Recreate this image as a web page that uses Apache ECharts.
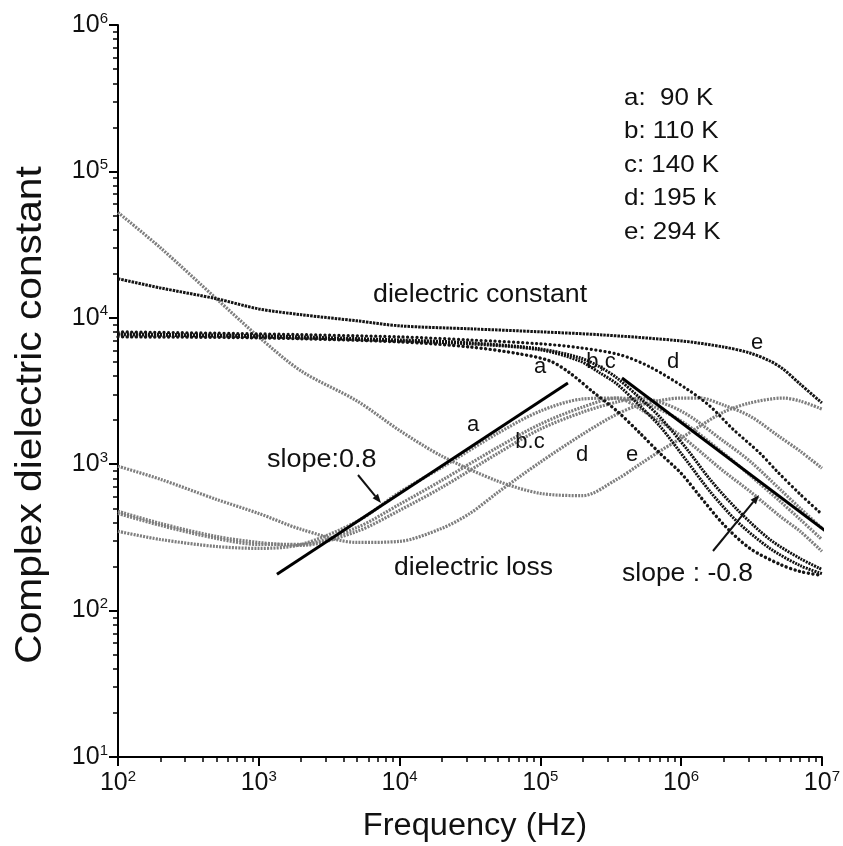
<!DOCTYPE html>
<html>
<head>
<meta charset="utf-8">
<script src="https://cdn.jsdelivr.net/npm/echarts@6/dist/echarts.min.js"></script>
<style>html,body{margin:0;padding:0;background:#fff}#c{width:843px;height:846px}</style>
</head>
<body>
<div id="c"></div>
<script>
// ---- tick labels ----
var xTicks = [1e2, 1e3, 1e4, 1e5, 1e6, 1e7];
var yTicks = [1e1, 1e2, 1e3, 1e4, 1e5, 1e6];
var legendLines = ['a:  90 K', 'b: 110 K', 'c: 140 K', 'd: 195 k', 'e: 294 K'];

// ---- dielectric constant (real part) ----
var fConstE = [100, 200, 500, 1000, 2000, 5000, 1e4, 3.16e4, 1e5, 2.65e5, 1e6, 2e6, 3.08e6, 4.27e6, 5.28e6, 7e6, 1e7];
var vConstE = [18500, 16000, 13500, 11500, 10500, 9530, 8810, 8410, 8020, 7660, 6950, 6320, 5750, 5070, 4480, 3530, 2620];

var fConstA = [100, 1000, 1e4, 3.16e4, 7.16e4, 1.17e5, 1.62e5, 2.37e5, 3.5e5, 5.1e5, 7.06e5, 1e6, 1.36e6, 2e6, 3.08e6, 5.04e6, 7e6, 1e7];
var vConstA = [7410, 7300, 6850, 6320, 5660, 5070, 4200, 3110, 2307, 1630, 1189, 867, 604, 388, 266, 207, 185, 174];

var fConstB = [100, 1000, 1e4, 3.16e4, 1e5, 1.91e5, 2.65e5, 3.5e5, 5.1e5, 7.06e5, 1.1e6, 1.6e6, 2.49e6, 4.27e6, 7e6, 1e7];
var vConstB = [7660, 7410, 6950, 6640, 6040, 5070, 4200, 3530, 2495, 1820, 1049, 653, 407, 266, 203, 179];

var fConstC = [100, 1000, 1e4, 3.16e4, 1e5, 1.91e5, 2.65e5, 3.5e5, 5.1e5, 7.06e5, 1.1e6, 1.6e6, 2.49e6, 4.27e6, 7e6, 1e7];
var vConstC = [7770, 7530, 7060, 6750, 6130, 5330, 4620, 3880, 2830, 2100, 1267, 789, 492, 306, 227, 191];

var fConstD = [100, 1000, 1e4, 3.16e4, 1e5, 1.91e5, 3.67e5, 6e5, 1.1e6, 1.6e6, 2.33e6, 3.63e6, 4.79e6, 7e6, 1e7];
var vConstD = [8020, 7770, 7410, 7060, 6640, 6240, 5590, 4620, 3260, 2495, 1738, 1189, 896, 624, 455];

// ---- dielectric loss (imaginary part) ----
var fLossE = [100, 200, 500, 1000, 2000, 5000, 1e4, 2e4, 5e4, 1e5, 2e5, 3.5e5, 5.1e5, 7.06e5, 1e6, 1.36e6, 2e6, 3.08e6, 5.28e6, 7e6, 1e7];
var vLossE = [52400, 30100, 13500, 7400, 4330, 2700, 1700, 1135, 765, 632, 610, 789, 1000, 1228, 1507, 1820, 2270, 2620, 2830, 2700, 2380];

var fLossD = [100, 200, 500, 1000, 2000, 5000, 1e4, 2e4, 3.16e4, 5e4, 1e5, 2e5, 3.5e5, 5.1e5, 1e6, 1.36e6, 2e6, 3.08e6, 5.04e6, 7e6, 1e7];
var vLossD = [969, 789, 575, 461, 359, 292, 297, 365, 461, 643, 1033, 1604, 2198, 2534, 2831, 2831, 2534, 2133, 1531, 1228, 939];

var fLossA = [100, 200, 500, 1000, 2000, 5000, 1e4, 2e4, 5e4, 1e5, 2e5, 3.5e5, 5.1e5, 1e6, 2e6, 3.08e6, 5.04e6, 7e6, 1e7];
var vLossA = [348, 306, 274, 266, 283, 407, 643, 953, 1630, 2307, 2790, 2830, 2383, 1556, 896, 653, 441, 348, 254];

var fLossB = [100, 200, 500, 1000, 2000, 5000, 1e4, 2e4, 5e4, 1e5, 2e5, 3.5e5, 5.1e5, 1e6, 2e6, 3.08e6, 5.04e6, 7e6, 1e7];
var vLossB = [461, 382, 311, 283, 283, 370, 532, 777, 1307, 1879, 2456, 2830, 2704, 1972, 1189, 841, 558, 420, 306];

var fLossC = [100, 200, 500, 1000, 2000, 5000, 1e4, 2e4, 5e4, 1e5, 2e5, 3.5e5, 5.1e5, 1e6, 2e6, 3.08e6, 5.04e6, 7e6, 1e7];
var vLossC = [477, 394, 321, 292, 279, 348, 484, 695, 1189, 1738, 2270, 2661, 2830, 2307, 1438, 1049, 674, 500, 365];

// ---- slope guide lines ----
var fSlopeUp = [1346, 1.57e5];
var vSlopeUp = [177, 3590];
var fSlopeDown = [3.8e5, 1.14e7];
var vSlopeDown = [3880, 332];

function pairs(f, v) { return f.map(function (x, i) { return [x, v[i]]; }); }
function minorLogs(lo, hi) {
  var out = [];
  for (var k = lo; k < hi; k++) for (var m = 2; m <= 9; m++) out.push(k + Math.log10(m));
  return out;
}
var FONT = '"Liberation Sans", Arial, Helvetica, sans-serif';
var gray = '#7e7e7e';

function constSeries(name, f, v, ls) {
  return { name: name, type: 'line', data: pairs(f, v), showSymbol: false, smooth: 0.3,
    lineStyle: ls, silent: true, z: 3 };
}
function lossSeries(name, f, v) {
  return { name: name, type: 'line', data: pairs(f, v), showSymbol: false, smooth: 0.3,
    lineStyle: { color: gray, width: 3.2, type: [2, 1.2] }, silent: true, z: 2 };
}

var supFmt = function (v) { return '{b|10}{s|' + Math.round(Math.log10(v)) + '}'; };
var richLbl = {
  b: { fontSize: 25, fontFamily: FONT, color: '#111' },
  s: { fontSize: 15, fontFamily: FONT, color: '#111', padding: [0, 0, 13, 0] }
};

var texts = [];
function addText(t, x, y, size, align, sx, rot) {
  texts.push({ type: 'text', x: x, y: y, scaleX: sx || 1, rotation: rot || 0, silent: true, z: 20,
    style: { text: t, fill: '#111', font: size + 'px ' + FONT, align: align || 'left', verticalAlign: 'middle',
      textAlign: align || 'left', textVerticalAlign: 'middle' } });
}
legendLines.forEach(function (t, i) { addText(t, 624, 98 + i * 33.5, 24, 'left', 1.08); });
addText('dielectric constant', 373, 295, 25, 'left', 1.07);
addText('dielectric loss', 394, 568, 25, 'left', 1.06);
addText('slope:0.8', 267, 460, 25, 'left', 1.08);
addText('slope : -0.8', 622, 574, 25, 'left', 1.06);
addText('e', 757, 343, 22, 'center');
addText('d', 673, 362, 22, 'center');
addText('b,c', 601, 362, 22, 'center');
addText('a', 540, 367, 22, 'center');
addText('a', 473, 425, 22, 'center');
addText('b.c', 530, 442, 22, 'center');
addText('d', 582, 455, 22, 'center');
addText('e', 632, 455, 22, 'center');
addText('Frequency (Hz)', 475, 826, 31, 'center', 1.05);
addText('Complex dielectric constant', 31, 415, 36, 'center', 1.13, Math.PI / 2);

function arrow(x1, y1, x2, y2) {
  var dx = x2 - x1, dy = y2 - y1, L = Math.sqrt(dx * dx + dy * dy);
  var ux = dx / L, uy = dy / L, hl = 9, hw = 3.5;
  var bx = x2 - ux * hl, by = y2 - uy * hl;
  texts.push({ type: 'line', silent: true, z: 20, shape: { x1: x1, y1: y1, x2: bx, y2: by }, style: { stroke: '#111', lineWidth: 2 } });
  texts.push({ type: 'polygon', silent: true, z: 20, shape: { points: [[x2, y2], [bx - uy * hw, by + ux * hw], [bx + uy * hw, by - ux * hw]] }, style: { fill: '#111' } });
}
arrow(358, 475, 381, 503);
arrow(713, 551, 759, 495);

var chart = echarts.init(document.getElementById('c'), null, { renderer: 'canvas' });
chart.setOption({
  backgroundColor: '#fff',
  animation: false,
  grid: { left: 118, right: 21, top: 25, bottom: 89, containLabel: false },
  xAxis: [
    { type: 'log', logBase: 10, min: xTicks[0], max: xTicks[xTicks.length - 1],
      axisLine: { lineStyle: { color: '#000', width: 2 } },
      axisTick: { show: true, length: 9, lineStyle: { color: '#000', width: 2 } },
      axisLabel: { formatter: supFmt, rich: richLbl, margin: 12 },
      splitLine: { show: false }, minorTick: { show: false } },
    { type: 'value', min: 2, max: 7, position: 'bottom', gridIndex: 0,
      axisLine: { show: false }, axisLabel: { show: false }, splitLine: { show: false },
      axisTick: { show: true, length: 5, customValues: minorLogs(2, 7), lineStyle: { color: '#000', width: 1.5 } } }
  ],
  yAxis: [
    { type: 'log', logBase: 10, min: yTicks[0], max: yTicks[yTicks.length - 1],
      axisLine: { lineStyle: { color: '#000', width: 2 } },
      axisTick: { show: true, length: 9, lineStyle: { color: '#000', width: 2 } },
      axisLabel: { formatter: supFmt, rich: richLbl, margin: 10 },
      splitLine: { show: false }, minorTick: { show: false } },
    { type: 'value', min: 1, max: 6, position: 'left', gridIndex: 0,
      axisLine: { show: false }, axisLabel: { show: false }, splitLine: { show: false },
      axisTick: { show: true, length: 5, customValues: minorLogs(1, 6), lineStyle: { color: '#000', width: 1.5 } } }
  ],
  series: [
    lossSeries('loss e', fLossE, vLossE),
    lossSeries('loss d', fLossD, vLossD),
    lossSeries('loss a', fLossA, vLossA),
    lossSeries('loss b', fLossB, vLossB),
    lossSeries('loss c', fLossC, vLossC),
    constSeries('const e', fConstE, vConstE, { color: '#151515', width: 3, type: [2.5, 1] }),
    constSeries('const d', fConstD, vConstD, { color: '#151515', width: 3.2, type: [0.1, 4.5], cap: 'round' }),
    constSeries('const c', fConstC, vConstC, { color: '#111', width: 3, type: [2, 1] }),
    constSeries('const b', fConstB, vConstB, { color: '#111', width: 3, type: [2, 1] }),
    constSeries('const a', fConstA, vConstA, { color: '#151515', width: 3.4, type: [0.1, 4.5], cap: 'round' }),
    { name: 'slope 0.8', type: 'line', data: pairs(fSlopeUp, vSlopeUp), showSymbol: false,
      lineStyle: { color: '#000', width: 3 }, z: 4, silent: true },
    { name: 'slope -0.8', type: 'line', data: pairs(fSlopeDown, vSlopeDown), showSymbol: false, clip: false,
      lineStyle: { color: '#000', width: 3 }, z: 4, silent: true }
  ],
  graphic: texts
});
</script>
</body>
</html>
